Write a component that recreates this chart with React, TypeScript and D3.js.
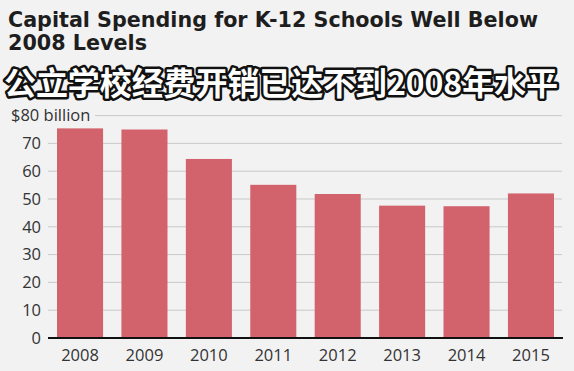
import React, { useEffect, useRef } from 'react';
import * as d3 from 'd3';

const years = ['2008', '2009', '2010', '2011', '2012', '2013', '2014', '2015'];
const spending = [75.4, 75.0, 64.4, 55.1, 51.8, 47.6, 47.4, 52.0];
const yTicks = [0, 10, 20, 30, 40, 50, 60, 70, 80];

const title1 = 'Capital Spending for K-12 Schools Well Below';
const title2 = '2008 Levels';
const subtitle = '公立学校经费开销已达不到2008年水平';

function App() {
  const svgRef = useRef<SVGSVGElement>(null);

  useEffect(() => {
    const width = 574;
    const height = 371;
    const svg = d3.select(svgRef.current).attr('width', width).attr('height', height);
    svg.selectAll('*').remove();

    svg.append('rect').attr('width', width).attr('height', height).attr('fill', '#f2f2f2');

    const x = d3.scaleBand().domain(years).range([48, 563]).paddingInner(0.285).paddingOuter(0.14);
    const y = d3.scaleLinear().domain([0, 80]).range([338, 115.6]);

    // gridlines
    svg
      .append('g')
      .selectAll('line')
      .data(yTicks.filter((d) => d > 0))
      .enter()
      .append('line')
      .attr('x1', (d) => (d === 80 ? 95 : 48))
      .attr('x2', 562)
      .attr('y1', (d) => y(d))
      .attr('y2', (d) => y(d))
      .attr('stroke', '#c9c9c9')
      .attr('stroke-width', 1);

    // bars
    svg
      .append('g')
      .selectAll('rect')
      .data(years)
      .enter()
      .append('rect')
      .attr('x', (d) => x(d)!)
      .attr('y', (_, i) => y(spending[i]))
      .attr('width', x.bandwidth())
      .attr('height', (_, i) => y(0) - y(spending[i]))
      .attr('fill', '#d2626c');

    // baseline
    svg
      .append('line')
      .attr('x1', 48)
      .attr('x2', 563)
      .attr('y1', y(0))
      .attr('y2', y(0))
      .attr('stroke', '#111')
      .attr('stroke-width', 2);

    const font = '"Open Sans", "DejaVu Sans", sans-serif';

    // y labels
    svg
      .append('g')
      .selectAll('text')
      .data(yTicks)
      .enter()
      .append('text')
      .attr('x', (d) => (d === 80 ? 11 : 41))
      .attr('y', (d) => y(d))
      .attr('dy', '0.35em')
      .attr('text-anchor', (d) => (d === 80 ? 'start' : 'end'))
      .attr('font-family', font)
      .attr('font-size', 16.5)
      .attr('fill', '#333')
      .text((d) => (d === 80 ? '$80 billion' : String(d)));

    // x labels
    svg
      .append('g')
      .selectAll('text')
      .data(years)
      .enter()
      .append('text')
      .attr('x', (d) => x(d)! + x.bandwidth() / 2)
      .attr('y', 361)
      .attr('text-anchor', 'middle')
      .attr('font-family', font)
      .attr('font-size', 16.5)
      .attr('fill', '#333')
      .text((d) => d);

    // titles
    const titleFont = '"DejaVu Sans", sans-serif';
    svg
      .append('text')
      .attr('x', 8)
      .attr('y', 27)
      .attr('font-family', titleFont)
      .attr('font-weight', 700)
      .attr('font-size', 21)
      .attr('textLength', 530)
      .attr('lengthAdjust', 'spacingAndGlyphs')
      .attr('fill', '#1e1e1e')
      .text(title1);
    svg
      .append('text')
      .attr('x', 8)
      .attr('y', 50)
      .attr('font-family', titleFont)
      .attr('font-weight', 700)
      .attr('font-size', 21)
      .attr('textLength', 139)
      .attr('lengthAdjust', 'spacingAndGlyphs')
      .attr('fill', '#1e1e1e')
      .text(title2);

    svg
      .append('text')
      .attr('x', 4)
      .attr('y', 95)
      .attr('font-family', '"Noto Sans CJK SC", sans-serif')
      .attr('font-weight', 700)
      .attr('font-size', 32)
      .attr('textLength', 554)
      .attr('fill', '#fff')
      .attr('stroke', '#111')
      .attr('stroke-width', 5)
      .attr('stroke-linejoin', 'round')
      .attr('paint-order', 'stroke')
      .text(subtitle);
  }, []);

  return <svg ref={svgRef} style={{ position: 'absolute', left: 0, top: 0 }}></svg>;
}

export default App;
